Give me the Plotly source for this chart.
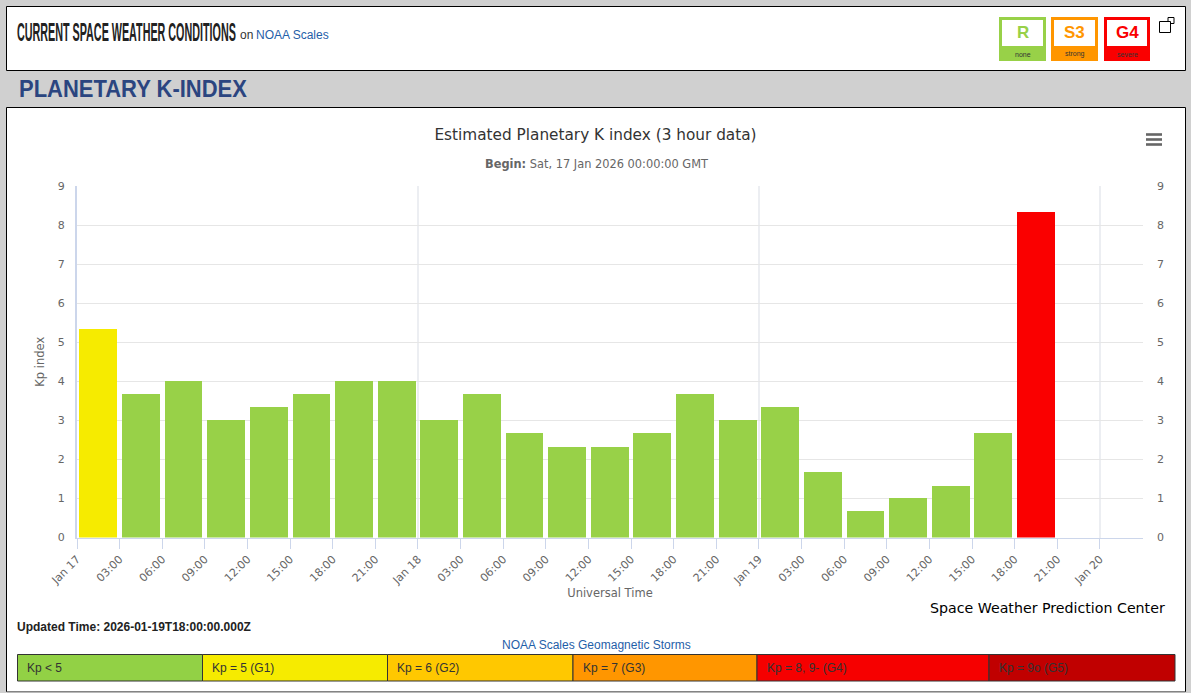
import plotly.graph_objects as go

W, H = 1191, 693

# ---- data ----
period_starts = [
    "2026-01-17 00:00", "2026-01-17 03:00", "2026-01-17 06:00", "2026-01-17 09:00",
    "2026-01-17 12:00", "2026-01-17 15:00", "2026-01-17 18:00", "2026-01-17 21:00",
    "2026-01-18 00:00", "2026-01-18 03:00", "2026-01-18 06:00", "2026-01-18 09:00",
    "2026-01-18 12:00", "2026-01-18 15:00", "2026-01-18 18:00", "2026-01-18 21:00",
    "2026-01-19 00:00", "2026-01-19 03:00", "2026-01-19 06:00", "2026-01-19 09:00",
    "2026-01-19 12:00", "2026-01-19 15:00", "2026-01-19 18:00",
]
kp_values = [5.33, 3.67, 4, 3, 3.33, 3.67, 4, 4, 3, 3.67, 2.67, 2.33, 2.33, 2.67,
             3.67, 3, 3.33, 1.67, 0.67, 1, 1.33, 2.67, 8.33]
GREEN, YELLOW, RED = "#98d148", "#f6eb00", "#fa0000"
bar_colors = [YELLOW] + [GREEN] * 21 + [RED]

tick_values = [
    "2026-01-17 00:00", "2026-01-17 03:00", "2026-01-17 06:00", "2026-01-17 09:00",
    "2026-01-17 12:00", "2026-01-17 15:00", "2026-01-17 18:00", "2026-01-17 21:00",
    "2026-01-18 00:00", "2026-01-18 03:00", "2026-01-18 06:00", "2026-01-18 09:00",
    "2026-01-18 12:00", "2026-01-18 15:00", "2026-01-18 18:00", "2026-01-18 21:00",
    "2026-01-19 00:00", "2026-01-19 03:00", "2026-01-19 06:00", "2026-01-19 09:00",
    "2026-01-19 12:00", "2026-01-19 15:00", "2026-01-19 18:00", "2026-01-19 21:00",
    "2026-01-20 00:00",
]
tick_labels = ["Jan 17", "03:00", "06:00", "09:00", "12:00", "15:00", "18:00", "21:00",
               "Jan 18", "03:00", "06:00", "09:00", "12:00", "15:00", "18:00", "21:00",
               "Jan 19", "03:00", "06:00", "09:00", "12:00", "15:00", "18:00", "21:00",
               "Jan 20"]
day_lines = ["2026-01-17 00:00", "2026-01-18 00:00", "2026-01-19 00:00", "2026-01-20 00:00"]
kp_ticks = [0, 1, 2, 3, 4, 5, 6, 7, 8, 9]

scale_labels = ["Kp < 5", "Kp = 5 (G1)", "Kp = 6 (G2)", "Kp = 7 (G3)", "Kp = 8, 9- (G4)", "Kp = 9o (G5)"]
scale_colors = ["#92d145", "#f6eb00", "#ffc800", "#ff9600", "#f60000", "#c00000"]
scale_edges = [17.5, 202.5, 387.5, 573, 757, 989, 1175]

badge_letters = ["R", "S3", "G4"]
badge_words = ["none", "strong", "severe"]
badge_colors = ["#98d148", "#ff9600", "#fa0000"]
badge_lefts = [999, 1051, 1104]
badge_rights = [1046, 1098, 1150]

# ---- helpers: page pixels to paper fractions ----
X = lambda px: px / W
Y = lambda py: 1 - py / H

PL, PR, PT, PB = 77, 1143, 186, 537.5
ARIAL = "Liberation Sans, Arial, sans-serif"
DEJA = "DejaVu Sans, sans-serif"
PAD = 2  # annotation box padding


def rect(x0, y0, x1, y1, fill, line=None, lw=1):
    return dict(type="rect", xref="paper", yref="paper", layer="below",
                x0=X(x0), x1=X(x1), y0=Y(y0), y1=Y(y1), fillcolor=fill,
                line=dict(color=line or fill, width=lw if line else 0))


def text(x, y, s, size=12, color="#333333", family=ARIAL, anchor="left"):
    dx = {"left": -PAD, "right": PAD, "center": 0}[anchor]
    return dict(xref="paper", yref="paper", x=X(x + dx), y=Y(y), text=s, showarrow=False,
                xanchor=anchor, yanchor="middle", align=anchor,
                font=dict(size=size, color=color, family=family))


shapes = [
    rect(6.5, 6.5, 1185.5, 70.5, "#ffffff", "#000000"),
    rect(6.5, 107.5, 1185.5, 691.5, "#ffffff", "#000000"),
    dict(type="line", xref="paper", yref="paper", x0=X(7), x1=X(1185), y0=Y(692), y1=Y(692),
         layer="below", line=dict(color="#b0b0b0", width=1.5)),
]
annotations = [
    text(17, 32, "<b>CURRENT SPACE WEATHER CONDITIONS</b>", 25, "#222222"),
    text(240, 35.5, "on", 12, "#333333"),
    text(256, 35.5, "NOAA Scales", 12, "#1f60a8"),
    text(19, 88.5, "<b>PLANETARY K-INDEX</b>", 24, "#2b4580"),
    text(596, 164.5, "<b>Begin:</b> Sat, 17 Jan 2026 00:00:00 GMT", 11.4, "#666666", DEJA, "center"),
    text(1165, 607.5, "Space Weather Prediction Center", 14.2, "#000000", DEJA, "right"),
    text(17, 627, "<b>Updated Time: 2026-01-19T18:00:00.000Z</b>", 12, "#222222"),
    text(596, 645, "NOAA Scales Geomagnetic Storms", 12, "#1f60a8", ARIAL, "center"),
]

for i, lab in enumerate(scale_labels):
    shapes.append(rect(scale_edges[i], 654.5, scale_edges[i + 1], 681, scale_colors[i], "#333333", 1))
    annotations.append(text(scale_edges[i] + 9.5, 668, lab, 12, "#333333"))

for L, R_, col, a, b in zip(badge_lefts, badge_rights, badge_colors, badge_letters, badge_words):
    shapes.append(rect(L, 17, R_, 61, col))
    shapes.append(rect(L + 3, 20, R_ - 3, 46, "#ffffff"))
    annotations.append(text((L + R_) / 2, 32, f"<b>{a}</b>", 17, col, ARIAL, "center"))
    annotations.append(text((L + R_) / 2, 54, b, 7, "#333333", ARIAL, "center"))

# window icon and export menu icon
shapes.append(rect(1168, 17.5, 1174, 23.5, "#ffffff", "#000000", 1))
shapes.append(rect(1159.5, 21.5, 1170.5, 32.5, "#ffffff", "#000000", 1))
for yy in (134.5, 139.5, 144.5):
    shapes.append(dict(type="line", xref="paper", yref="paper", x0=X(1146), x1=X(1162),
                       y0=Y(yy), y1=Y(yy), layer="above", line=dict(color="#666666", width=2.6)))

HOUR_MS = 3600000
fig = go.Figure()
fig.add_bar(x=period_starts, y=kp_values, width=2.66 * HOUR_MS, offset=0.17 * HOUR_MS,
            marker=dict(color=bar_colors, line=dict(width=0)), hoverinfo="skip", showlegend=False)
fig.add_scatter(x=period_starts, y=kp_values, yaxis="y2", mode="markers", marker=dict(opacity=0),
                hoverinfo="skip", showlegend=False)

AXIS_FONT = dict(size=11, color="#666666", family=DEJA)
fig.update_layout(
    width=W, height=H, autosize=False,
    margin=dict(l=0, r=0, t=0, b=0),
    paper_bgcolor="#d0d0d0", plot_bgcolor="#ffffff",
    bargap=0,
    title=dict(text="Estimated Planetary K index (3 hour data)", x=0.5, xanchor="center",
               y=Y(135), yanchor="middle", xref="paper", yref="paper",
               font=dict(size=15.3, color="#333333", family=DEJA)),
    shapes=shapes, annotations=annotations,
    xaxis=dict(
        type="date", domain=[X(PL), X(PR)],
        range=["2026-01-17 00:00", "2026-01-20 03:02"],
        tickmode="array", tickvals=tick_values, ticktext=tick_labels, tickangle=-45,
        tickfont=AXIS_FONT, ticks="outside", ticklen=10, tickcolor="#ccd6eb", tickwidth=1,
        showgrid=False, zeroline=False, showline=True, linecolor="#ccd6eb", linewidth=1,
        minor=dict(tickmode="array", tickvals=day_lines, showgrid=True, gridcolor="#eceef2", gridwidth=2, ticks=""),
        title=dict(text="Universal Time", standoff=2, font=dict(size=11.5, color="#666666", family=DEJA)),
        automargin=False, anchor="y",
    ),
    yaxis=dict(
        domain=[Y(PB), Y(PT)], range=[0, 9], tickmode="array", tickvals=kp_ticks,
        tickfont=AXIS_FONT, gridcolor="#e6e6e6", gridwidth=1, zeroline=False,
        showline=True, linecolor="#ccd6eb", linewidth=2, ticks="", ticklabelstandoff=8,
        title=dict(text="Kp index", standoff=11, font=dict(size=11.5, color="#666666", family=DEJA)),
        automargin=False,
    ),
    yaxis2=dict(
        domain=[Y(PB), Y(PT)], range=[0, 9], overlaying="y", side="right", tickmode="array", tickvals=kp_ticks,
        tickfont=AXIS_FONT, showgrid=False, zeroline=False, showline=False, ticks="", ticklabelstandoff=13,
        automargin=False,
    ),
)

# The page's two headings are set in condensed type: narrow the real text to the same widths.
narrow = """
document.body.style.margin='0';document.body.style.overflow='hidden';
var targets={'CURRENT SPACE WEATHER CONDITIONS':219,'PLANETARY K-INDEX':228};
document.querySelectorAll('.annotation-text').forEach(function(t){
  var w=targets[t.textContent];
  if(!w){return;}
  var b=t.getBBox();
  t.setAttribute('transform','translate('+b.x+',0) scale('+(w/b.width)+',1) translate('+(-b.x)+',0)');
});
"""
fig.write_html("out.html", config=dict(displayModeBar=False), post_script=narrow)
